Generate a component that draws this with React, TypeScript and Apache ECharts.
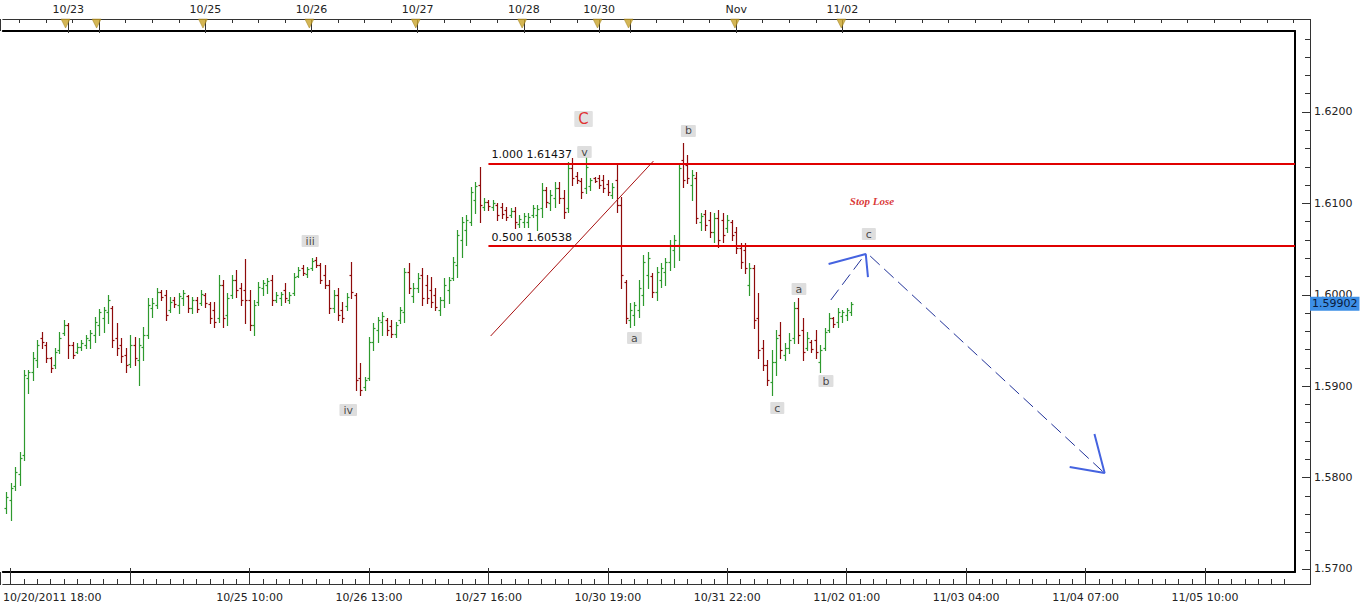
import React, { useEffect, useRef } from "react";
import * as echarts from "echarts";

// ---------- hourly OHLC data (GBP/USD-like), bar index = position on the time axis ----------
const opens = [
  1.5767,1.5775,1.5791,1.5804,1.5825,1.5909,1.5915,1.5929,1.5953,1.5945,
  1.5931,1.5923,1.5940,1.5958,1.5967,1.5945,1.5937,1.5943,1.5945,1.5951,
  1.5956,1.5967,1.5975,1.5981,1.5986,1.5953,1.5945,1.5934,1.5924,1.5945,
  1.5929,1.5943,1.5956,1.5986,1.5989,1.6003,1.6000,1.5983,1.5994,1.5989,
  1.5996,1.5999,1.5986,1.5994,1.5991,1.6000,1.5990,1.5983,1.5975,1.6011,
  1.5978,1.6000,1.6016,1.6007,1.6005,1.5994,1.5967,1.5992,1.6007,1.6011,
  1.6016,1.5994,1.5996,1.6005,1.5994,1.6002,1.6021,1.6029,1.6023,1.6029,
  1.6038,1.6033,1.6022,1.6011,1.5986,1.6000,1.5983,1.5988,1.6022,1.6000,
  1.5909,1.5899,1.5909,1.5948,1.5961,1.5970,1.5972,1.5966,1.5957,1.5972,
  1.5981,1.6025,1.5999,1.6007,1.6022,1.6011,1.6005,1.6000,1.5983,1.5994,
  1.6005,1.6018,1.6033,1.6060,1.6071,1.6080,1.6104,1.6120,1.6096,1.6101,
  1.6096,1.6098,1.6096,1.6093,1.6087,1.6092,1.6077,1.6080,1.6080,1.6087,
  1.6087,1.6095,1.6115,1.6100,1.6106,1.6117,1.6106,1.6095,1.6139,1.6130,
  1.6124,1.6117,1.6119,1.6128,1.6128,1.6126,1.6121,1.6109,1.6126,1.6098,
  1.6014,1.5972,1.5978,1.5983,1.6000,1.6022,1.6021,1.6003,1.6016,1.6025,
  1.6036,1.6049,1.6054,1.6147,1.6142,1.6120,1.6128,1.6080,1.6088,1.6082,
  1.6069,1.6084,1.6082,1.6073,1.6080,1.6069,1.6051,1.6049,1.6011,1.6029,
  1.5975,1.5942,1.5923,1.5905,1.5926,1.5956,1.5934,1.5942,1.5953,1.5986,
  1.5961,1.5942,1.5948,1.5951,1.5926,1.5942,1.5961,1.5975,1.5970,1.5977,
  1.5978,1.5981,
];
const highs = [
  1.5784,1.5794,1.5812,1.5828,1.5918,1.5918,1.5937,1.5951,1.5959,1.5948,
  1.5932,1.5942,1.5959,1.5972,1.5969,1.5948,1.5947,1.5951,1.5956,1.5961,
  1.5976,1.5984,1.5987,1.6000,1.5988,1.5969,1.5953,1.5942,1.5956,1.5954,
  1.5953,1.5965,1.5996,1.5996,1.6007,1.6005,1.6005,1.5998,1.5998,1.6002,
  1.6005,1.6000,1.5998,1.5998,1.6005,1.6002,1.5992,1.5992,1.6022,1.6016,
  1.6002,1.6022,1.6027,1.6013,1.6039,1.6005,1.5994,1.6014,1.6016,1.6018,
  1.6022,1.6003,1.6003,1.6013,1.6003,1.6024,1.6030,1.6033,1.6030,1.6040,
  1.6041,1.6035,1.6033,1.6016,1.6005,1.6007,1.5992,1.6002,1.6036,1.6002,
  1.5925,1.5910,1.5954,1.5969,1.5976,1.5981,1.5975,1.5972,1.5970,1.5987,
  1.6029,1.6035,1.6013,1.6024,1.6029,1.6022,1.6019,1.6007,1.5998,1.6018,
  1.6019,1.6041,1.6071,1.6085,1.6087,1.6118,1.6123,1.6140,1.6106,1.6104,
  1.6104,1.6100,1.6100,1.6096,1.6095,1.6096,1.6087,1.6089,1.6089,1.6098,
  1.6098,1.6122,1.6118,1.6115,1.6123,1.6123,1.6115,1.6145,1.6150,1.6134,
  1.6128,1.6151,1.6128,1.6129,1.6131,1.6131,1.6126,1.6122,1.6142,1.6107,
  1.6016,1.5991,1.5992,1.6016,1.6044,1.6047,1.6024,1.6030,1.6035,1.6040,
  1.6060,1.6065,1.6144,1.6166,1.6153,1.6136,1.6134,1.6089,1.6093,1.6091,
  1.6089,1.6093,1.6089,1.6087,1.6082,1.6074,1.6057,1.6057,1.6035,1.6033,
  1.6002,1.5951,1.5929,1.5940,1.5961,1.5970,1.5947,1.5958,1.5992,1.5996,
  1.5975,1.5959,1.5951,1.5961,1.5945,1.5964,1.5980,1.5976,1.5986,1.5983,
  1.5986,1.5992,
];
const lows = [
  1.5761,1.5754,1.5786,1.5792,1.5819,1.5893,1.5907,1.5921,1.5942,1.5926,
  1.5915,1.5920,1.5936,1.5956,1.5931,1.5931,1.5936,1.5940,1.5942,1.5942,
  1.5948,1.5956,1.5959,1.5969,1.5943,1.5934,1.5926,1.5915,1.5921,1.5923,
  1.5901,1.5929,1.5953,1.5976,1.5986,1.5994,1.5972,1.5981,1.5987,1.5980,
  1.5989,1.5981,1.5980,1.5981,1.5989,1.5987,1.5969,1.5965,1.5970,1.5965,
  1.5967,1.5996,1.5998,1.5989,1.5969,1.5961,1.5956,1.5989,1.6000,1.6002,
  1.5989,1.5992,1.5989,1.5992,1.5991,1.6000,1.6019,1.6022,1.6019,1.6027,
  1.6030,1.6013,1.6007,1.5980,1.5981,1.5972,1.5970,1.5983,1.5996,1.5896,
  1.5890,1.5896,1.5907,1.5940,1.5948,1.5956,1.5956,1.5954,1.5954,1.5969,
  1.5970,1.6002,1.5992,1.6003,1.5989,1.5991,1.5987,1.5983,1.5978,1.5987,
  1.5991,1.6016,1.6019,1.6041,1.6054,1.6076,1.6089,1.6080,1.6093,1.6093,
  1.6093,1.6082,1.6084,1.6082,1.6085,1.6073,1.6074,1.6074,1.6074,1.6085,
  1.6071,1.6085,1.6096,1.6093,1.6096,1.6100,1.6084,1.6091,1.6120,1.6122,
  1.6106,1.6111,1.6115,1.6123,1.6117,1.6112,1.6109,1.6106,1.6091,1.6007,
  1.5969,1.5965,1.5967,1.5976,1.5989,1.6007,1.5998,1.5994,1.6008,1.6011,
  1.6027,1.6030,1.6038,1.6118,1.6122,1.6104,1.6079,1.6071,1.6071,1.6063,
  1.6058,1.6052,1.6058,1.6069,1.6060,1.6046,1.6029,1.6024,1.6000,1.5964,
  1.5931,1.5918,1.5901,1.5890,1.5912,1.5931,1.5929,1.5936,1.5947,1.5947,
  1.5929,1.5940,1.5937,1.5931,1.5915,1.5940,1.5959,1.5965,1.5965,1.5970,
  1.5972,1.5978,
];
const closes = [
  1.5779,1.5789,1.5806,1.5821,1.5912,1.5915,1.5931,1.5945,1.5948,1.5931,
  1.5920,1.5937,1.5953,1.5967,1.5945,1.5934,1.5943,1.5947,1.5953,1.5958,
  1.5970,1.5981,1.5983,1.5994,1.5951,1.5942,1.5933,1.5923,1.5945,1.5931,
  1.5945,1.5956,1.5989,1.5991,1.6003,1.5998,1.5978,1.5992,1.5990,1.5999,
  1.6002,1.5986,1.5994,1.5984,1.6001,1.5991,1.5975,1.5970,1.6011,1.5975,
  1.5996,1.6016,1.6005,1.5994,1.5994,1.5967,1.5989,1.6008,1.6013,1.6015,
  1.5994,1.6000,1.6001,1.5996,1.6000,1.6019,1.6027,1.6024,1.6028,1.6037,
  1.6033,1.6016,1.6011,1.5986,1.6000,1.5978,1.5975,1.5998,1.6003,1.5907,
  1.5896,1.5907,1.5948,1.5964,1.5972,1.5977,1.5961,1.5957,1.5967,1.5983,
  1.6025,1.6007,1.6007,1.6018,1.5996,1.5996,1.5992,1.5987,1.5994,1.6011,
  1.6016,1.6036,1.6065,1.6080,1.6082,1.6112,1.6119,1.6098,1.6101,1.6097,
  1.6100,1.6087,1.6088,1.6085,1.6092,1.6080,1.6083,1.6086,1.6085,1.6095,
  1.6094,1.6115,1.6101,1.6109,1.6117,1.6106,1.6091,1.6139,1.6128,1.6126,
  1.6112,1.6140,1.6126,1.6124,1.6120,1.6117,1.6112,1.6118,1.6098,1.6022,
  1.5975,1.5983,1.5989,1.6007,1.6036,1.6040,1.6003,1.6025,1.6029,1.6036,
  1.6054,1.6060,1.6139,1.6126,1.6128,1.6131,1.6084,1.6086,1.6076,1.6069,
  1.6084,1.6060,1.6065,1.6082,1.6065,1.6051,1.6036,1.6029,1.6029,1.5972,
  1.5940,1.5923,1.5907,1.5926,1.5953,1.5940,1.5942,1.5951,1.5986,1.5956,
  1.5937,1.5953,1.5941,1.5937,1.5940,1.5959,1.5975,1.5968,1.5981,1.5981,
  1.5983,1.59902,
];

// ---------- axes ----------
const priceTicks = [1.57, 1.58, 1.59, 1.6, 1.61, 1.62];
const bottomTickIdx = [1, 28, 55, 82, 109, 136, 163, 190, 217, 244, 271];
const bottomLabels = ["10/20/2011 18:00", "", "10/25 10:00", "10/26 13:00", "10/27 16:00", "10/30 19:00", "10/31 22:00", "11/02 01:00", "11/03 04:00", "11/04 07:00", "11/05 10:00"];
const dayIdx = [14, 21, 45, 69, 93, 117, 134, 141, 165, 189];
const dayLabels = ["10/23", "", "10/25", "10/26", "10/27", "10/28", "10/30", "", "Nov", "11/02"];

// ---------- annotations ----------
const fibLevels = [1.0, 0.5];
const fibPrices = [1.61437, 1.60538];
const fibStartIdx = 109;
const trendLine = [[109.5, 1.59549], [146.3, 1.61463]];
const waveNames = ["iii", "iv", "C", "v", "a", "b", "c", "a", "b", "c"];
const waveX = [68.7, 77.3, 130.5, 130.7, 142.0, 154.2, 174.3, 179.2, 185.3, 195.0];
const waveY = [1.60588, 1.58739, 1.61923, 1.61562, 1.59527, 1.61792, 1.58761, 1.60063, 1.59056, 1.60665];
const noteText = "Stop Lose";
const noteX = 195.7;
const noteY = 1.61026;
const arrowShaft1 = [[186.4, 1.59943], [193.7, 1.60413]];
const arrowHead1 = [[185.9, 1.60337], [194.3, 1.60446], [194.8, 1.60194]];
const arrowShaft2 = [[195.3, 1.60424], [248.0, 1.58061]];
const arrowHead2 = [[240.4, 1.58116], [248.3, 1.5805], [246.0, 1.58477]];

const X_MIN = -0.79;
const X_MAX = 291.34;
const Y_MIN = 1.56967;
const Y_MAX = 1.62886;
const UP = "#2e9a2e";
const DOWN = "#8e0b0b";
const FONT = "DejaVu Sans";

export default function App() {
  const ref = useRef<HTMLDivElement>(null);

  useEffect(() => {
    if (!ref.current) return;
    const chart = echarts.init(ref.current, undefined, { renderer: "svg" });

    const lastPrice = closes[closes.length - 1];
    const ohlc = closes.map((c, i) => [i, opens[i], highs[i], lows[i], c]);

    const firstLabelPos = bottomTickIdx[0] + 9.4;
    const bottomLabelPos: number[] = [firstLabelPos];
    bottomTickIdx.forEach((v, k) => {
      if (k > 0 && bottomLabels[k]) bottomLabelPos.push(v);
    });
    const bottomMinor: number[] = [];
    for (let v = bottomTickIdx[0]; v <= X_MAX; v += 3) {
      if (!bottomTickIdx.includes(v)) bottomMinor.push(v);
    }
    const topMinor: number[] = [];
    for (let v = 3; v < 130; v += 6) if (!dayIdx.includes(v)) topMinor.push(v);
    for (let v = 147; v <= X_MAX; v += 6) if (!dayIdx.includes(v)) topMinor.push(v);
    const dayLabelPos = dayIdx.filter((_, k) => dayLabels[k]);
    const yMinor: number[] = [];
    for (let k = 0; k <= 29; k++) {
      const v = Math.round((1.57 + 0.002 * k) * 10000) / 10000;
      if (Math.round(v * 10000) % 100 !== 0) yMinor.push(v);
    }

    const axisCol = "#333";
    const labelStyle = { color: "#222", fontSize: 11, fontFamily: FONT };

    const baseX = { type: "value", min: X_MIN, max: X_MAX, splitLine: { show: false } };
    const baseY = { type: "value", min: Y_MIN, max: Y_MAX, splitLine: { show: false }, scale: true };
    const borderAxis = {
      axisLine: { show: true, onZero: false, lineStyle: { color: "#000", width: 2 } },
      axisTick: { show: false },
      axisLabel: { show: false },
      offset: 0,
    };

    const option: any = {
      animation: false,
      backgroundColor: "#fff",
      textStyle: { fontFamily: FONT },
      grid: [
        { left: 0, top: 31, width: 1295, height: 541 },
        { left: 0, top: 19, width: 1295, height: 12 },
      ],
      xAxis: [
        {
          ...baseX, gridIndex: 0, position: "bottom", offset: 12,
          axisLine: { show: true, onZero: false, lineStyle: { color: axisCol, width: 1 } },
          axisTick: { show: true, inside: true, length: 16, customValues: bottomTickIdx, lineStyle: { color: axisCol } },
          axisLabel: {
            ...labelStyle, show: true, margin: 8, customValues: bottomLabelPos,
            formatter: (v: number) => {
              if (Math.abs(v - firstLabelPos) < 0.01) return bottomLabels[0];
              const k = bottomTickIdx.findIndex((t) => Math.abs(t - v) < 0.01);
              return k >= 0 ? bottomLabels[k] : "";
            },
          },
        },
        {
          ...baseX, gridIndex: 0, position: "bottom", offset: 12,
          axisLine: { show: false, onZero: false },
          axisTick: { show: true, inside: true, length: 5, customValues: bottomMinor, lineStyle: { color: axisCol } },
          axisLabel: { show: false },
        },
        {
          ...baseX, gridIndex: 0, position: "top", offset: 12,
          axisLine: { show: true, onZero: false, lineStyle: { color: axisCol, width: 1 } },
          axisTick: { show: true, inside: true, length: 14, customValues: dayIdx, lineStyle: { color: axisCol } },
          axisLabel: {
            ...labelStyle, show: true, margin: 4, customValues: dayLabelPos,
            formatter: (v: number) => {
              const k = dayIdx.findIndex((t) => Math.abs(t - v) < 0.01);
              return k >= 0 ? dayLabels[k] : "";
            },
          },
        },
        {
          ...baseX, gridIndex: 0, position: "top", offset: 12,
          axisLine: { show: false, onZero: false },
          axisTick: { show: true, inside: true, length: 4, customValues: topMinor, lineStyle: { color: axisCol } },
          axisLabel: { show: false },
        },
        { ...baseX, gridIndex: 1, show: false },
        { ...baseX, ...borderAxis, gridIndex: 0, position: "top" },
        { ...baseX, ...borderAxis, gridIndex: 0, position: "bottom" },
      ],
      yAxis: [
        {
          ...baseY, gridIndex: 0, position: "right", offset: 15,
          axisLine: { show: true, onZero: false, lineStyle: { color: axisCol, width: 1 } },
          axisTick: { show: true, inside: true, length: 8, customValues: priceTicks, lineStyle: { color: axisCol } },
          axisLabel: { ...labelStyle, show: true, margin: 4, customValues: priceTicks, formatter: (v: number) => v.toFixed(4) },
        },
        {
          ...baseY, gridIndex: 0, position: "right", offset: 15,
          axisLine: { show: false, onZero: false },
          axisTick: { show: true, inside: true, length: 5, customValues: yMinor, lineStyle: { color: axisCol } },
          axisLabel: { show: false },
        },
        {
          ...baseY, gridIndex: 0, position: "right", offset: 15, z: 10,
          axisLine: { show: false, onZero: false },
          axisTick: { show: false },
          axisLabel: {
            ...labelStyle, color: "#0a1a3a", show: true, margin: 0, customValues: [lastPrice],
            formatter: (v: number) => v.toFixed(5),
            backgroundColor: "#3d8fe6", padding: [2, 2, 1, 2],
          },
        },
        { type: "value", gridIndex: 1, show: false, min: 0, max: 1 },
        { ...baseY, ...borderAxis, gridIndex: 0, position: "right" },
      ],
      series: [
        {
          type: "custom",
          xAxisIndex: 0,
          yAxisIndex: 0,
          data: ohlc,
          encode: { x: 0, y: [1, 2, 3, 4] },
          renderItem: (params: any, api: any) => {
            const i = api.value(0);
            const o = api.value(1);
            const h = api.value(2);
            const l = api.value(3);
            const c = api.value(4);
            const top = api.coord([i, h]);
            const bot = api.coord([i, l]);
            const po = api.coord([i, o]);
            const pc = api.coord([i, c]);
            const x = Math.round(top[0]) + 0.5;
            const color = c >= o ? UP : DOWN;
            const yo = Math.round(po[1]) + 0.5;
            const yc = Math.round(pc[1]) + 0.5;
            const st = { stroke: color, lineWidth: 1.2 };
            return {
              type: "group",
              children: [
                { type: "line", shape: { x1: x, y1: Math.round(top[1]), x2: x, y2: Math.round(bot[1]) + 1 }, style: st },
                { type: "line", shape: { x1: x - 2, y1: yo, x2: x, y2: yo }, style: st },
                { type: "line", shape: { x1: x, y1: yc, x2: x + 2, y2: yc }, style: st },
              ],
            };
          },
          markLine: {
            silent: true,
            symbol: ["none", "none"],
            animation: false,
            data: [
              ...fibPrices.map((p, k) => [
                {
                  coord: [fibStartIdx, p],
                  lineStyle: { color: "#e00000", width: 2, type: "solid" },
                  label: {
                    show: true,
                    position: "insideStartTop",
                    distance: 3,
                    formatter: `${fibLevels[k].toFixed(3)} ${p.toFixed(5)}`,
                    color: "#111",
                    fontSize: 11,
                    fontFamily: FONT,
                  },
                },
                { coord: [X_MAX, p] },
              ]),
              [
                { coord: trendLine[0], lineStyle: { color: "#a81010", width: 1, type: "solid" }, label: { show: false } },
                { coord: trendLine[1] },
              ],
            ],
          },
          z: 3,
        },
        {
          type: "scatter",
          xAxisIndex: 0,
          yAxisIndex: 0,
          symbol: "rect",
          symbolSize: 1,
          itemStyle: { color: "rgba(0,0,0,0)" },
          silent: true,
          z: 6,
          data: waveNames.map((n, k) => ({
            value: [waveX[k], waveY[k]],
            name: n,
            label:
              n === "C"
                ? { color: "#e00000", fontSize: 15, padding: [1, 4, 0, 4], backgroundColor: "#d9d9d9", borderRadius: 1 }
                : { color: "#222", fontSize: 11, padding: [0, 4, 0, 4], lineHeight: 12, backgroundColor: "#d6d6d6", borderRadius: 1 },
          })),
          label: { show: true, position: "inside", formatter: (p: any) => p.name, fontFamily: FONT },
        },
        {
          type: "scatter",
          xAxisIndex: 0,
          yAxisIndex: 0,
          symbol: "rect",
          symbolSize: 1,
          itemStyle: { color: "rgba(0,0,0,0)" },
          silent: true,
          z: 6,
          data: [{ value: [noteX, noteY], name: noteText }],
          label: {
            show: true,
            position: "inside",
            formatter: (p: any) => p.name,
            color: "#d00000",
            fontSize: 11,
            fontWeight: "bold",
            fontStyle: "italic",
            fontFamily: "Liberation Serif",
          },
        },
        ...[arrowShaft1, arrowShaft2].map((d) => ({
          type: "line",
          xAxisIndex: 0,
          yAxisIndex: 0,
          data: d,
          symbol: "none",
          showSymbol: false,
          silent: true,
          z: 5,
          lineStyle: { color: "#22339a", width: 1, type: [13, 6] },
        })),
        ...[arrowHead1, arrowHead2].map((d) => ({
          type: "line",
          xAxisIndex: 0,
          yAxisIndex: 0,
          data: d,
          symbol: "none",
          showSymbol: false,
          silent: true,
          z: 5,
          lineStyle: { color: "#4563e0", width: 2 },
        })),
        {
          type: "scatter",
          xAxisIndex: 4,
          yAxisIndex: 3,
          symbol: "triangle",
          symbolRotate: 180,
          symbolSize: [9, 9],
          silent: true,
          z: 6,
          itemStyle: { color: "#c9a42a", borderColor: "#9a7a12", borderWidth: 0.6 },
          data: dayIdx.map((d) => [d, 0.62]),
        },
      ],
      graphic: [
        { type: "line", shape: { x1: 1295, y1: 19.5, x2: 1310, y2: 19.5 }, style: { stroke: axisCol, lineWidth: 1 } },
        { type: "line", shape: { x1: 1310.5, y1: 19, x2: 1310.5, y2: 585 }, style: { stroke: axisCol, lineWidth: 1 } },
        { type: "line", shape: { x1: 1295, y1: 584.5, x2: 1310, y2: 584.5 }, style: { stroke: axisCol, lineWidth: 1 } },
        { type: "line", shape: { x1: 0.5, y1: 19, x2: 0.5, y2: 31 }, style: { stroke: axisCol, lineWidth: 1 } },
        { type: "line", shape: { x1: 0.5, y1: 572, x2: 0.5, y2: 585 }, style: { stroke: axisCol, lineWidth: 1 } },
      ],
    };

    chart.setOption(option);
    return () => chart.dispose();
  }, []);

  return (
    <div
      ref={ref}
      style={{ position: "absolute", left: 0, top: 0, width: 1366, height: 609, background: "#fff" }}
    />
  );
}
